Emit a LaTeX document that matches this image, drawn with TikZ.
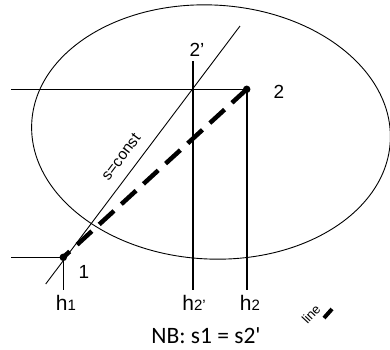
\documentclass[tikz,border=0pt]{standalone}
\usepackage{fontspec}
\setmainfont{Liberation Sans}
\newfontfamily\nbfont{Carlito}
\usetikzlibrary{calc}

\newcommand{\hlab}[1]{h{\fontsize{15}{15}\selectfont #1}}

\begin{document}
\begin{tikzpicture}[x=1pt, y=-1pt,
  dot/.style={circle, fill=black, inner sep=0pt, minimum size=7.5pt},
  lbl/.style={font=\fontsize{19}{19}\selectfont, inner sep=0pt},
  hlbl/.style={font=\fontsize{21}{21}\selectfont, inner sep=0pt, anchor=base},
  thinln/.style={line width=0.9pt},
  vline/.style={line width=1.6pt},
  process/.style={line width=4.5pt, dash pattern=on 20pt off 10pt}
]
  \useasboundingbox (0,0) rectangle (390,349);

  % state points
  \node[dot] (p1) at (63.3,257.3) {};
  \node[dot] (p2) at (246.7,89.3) {};

  % ellipse
  \draw[thinln, rotate around={-3:(211,132)}] (211,132) ellipse [x radius=179.5, y radius=127];

  % horizontals
  \coordinate (l1) at (11,257.3);
  \coordinate (l2) at (11,89.3);
  \draw[thinln] (l1) -- (p1.center);
  \draw[thinln] (l2) -- (p2.center);

  % verticals down to h axis
  \coordinate (h1) at (63.3,290);
  \coordinate (h2s) at (192.7,290);
  \coordinate (h2) at (246.7,290);
  \coordinate (t2s) at (192.7,61);
  \draw[vline] (p1.center) -- (h1);
  \draw[vline] (t2s) -- (h2s);
  \draw[vline] (p2.center) -- (h2);

  % s=const
  \coordinate (sa) at (45.7,284);
  \coordinate (sb) at (240,26);
  \draw[thinln] (sa) -- (sb);
  \node[font=\fontsize{15.5}{15.5}\selectfont, rotate=53, inner sep=0pt] (slab) at (121,157) {s=const};

  % process 1-2
  \draw[process] (p2.center) -- (p1.center);

  % labels
  \node[lbl] (n2s) at (197,50) {2'};
  \node[lbl] (n2) at (279,92) {2};
  \node[lbl] (n1) at (84,272) {1};
  \node[hlbl] (nh1) at (66,310) {\hlab{1}};
  \node[hlbl] (nh2s) at (194,310) {\hlab{2'}};
  \node[hlbl] (nh2) at (250,310) {\hlab{2}};

  % cut-off line
  \node[font=\fontsize{13}{13}\selectfont, rotate=47, inner sep=0pt] (cut) at (311,314) {line};
  \coordinate (ca) at (324,318);
  \coordinate (cb) at (332,309);
  \draw[line width=4pt] (ca) -- (cb);

  \node[font=\nbfont\fontsize{23.5}{23.5}\selectfont, inner sep=0pt] (nb) at (206,336) {NB: s1 = s2'};
\end{tikzpicture}
\end{document}
